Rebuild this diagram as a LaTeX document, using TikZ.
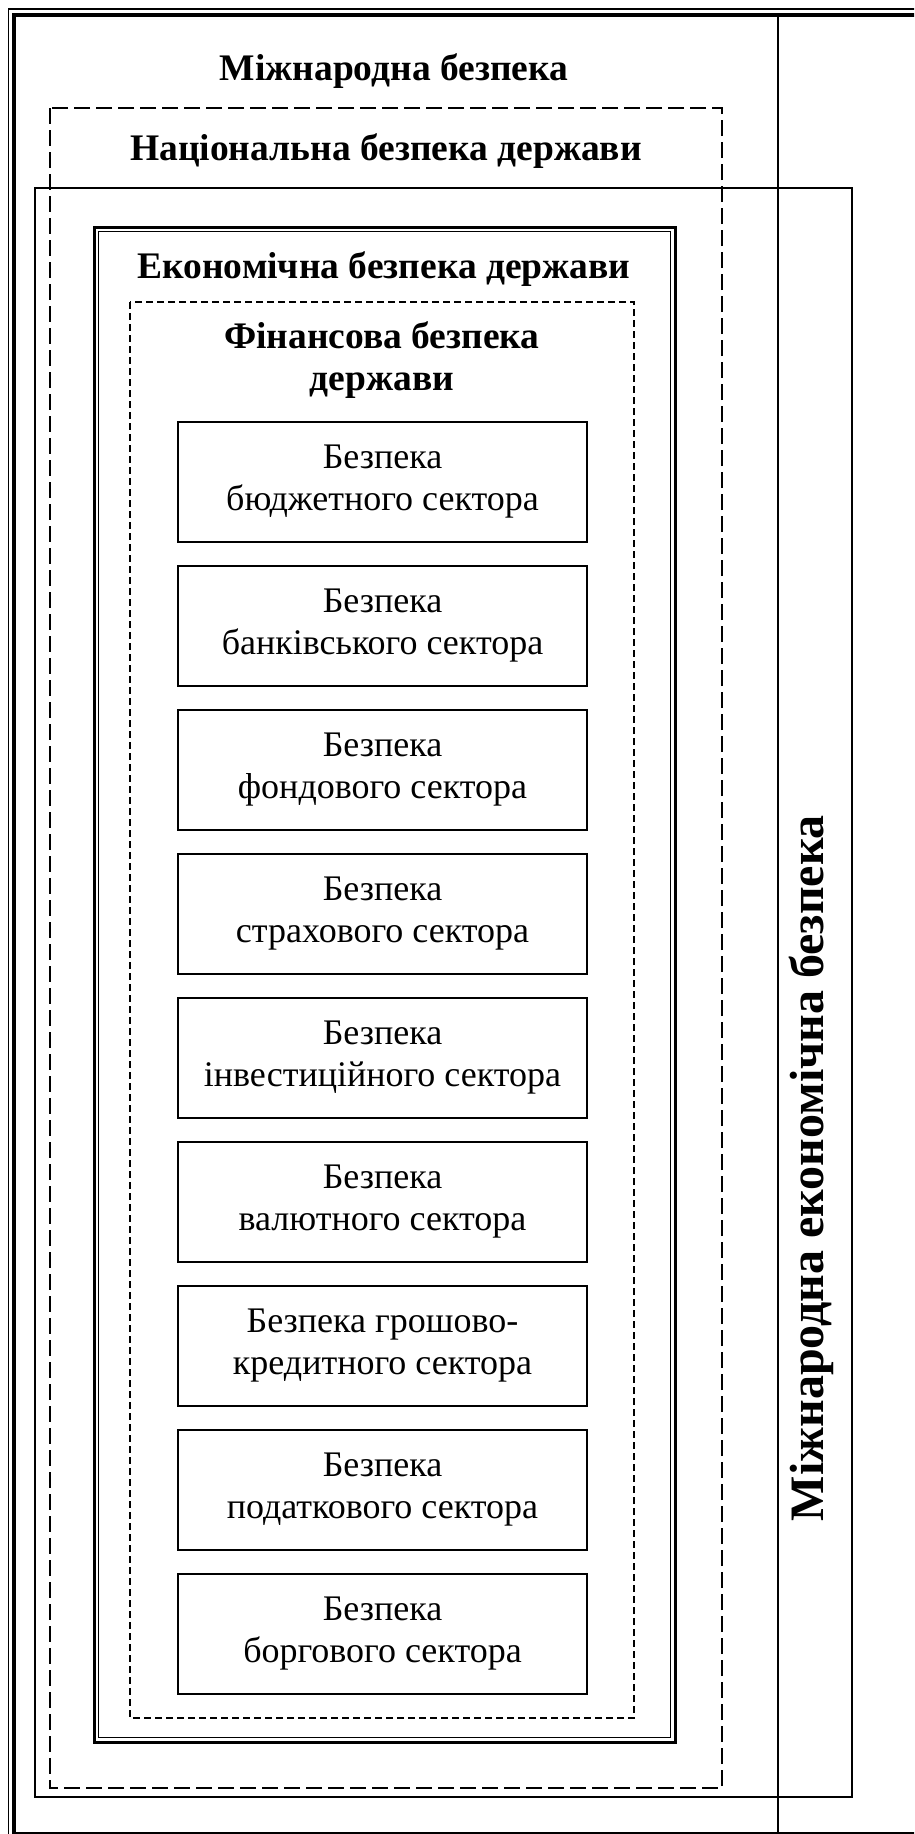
\documentclass[tikz,border=0pt]{standalone}
\usepackage{fontspec}
\setmainfont{Liberation Serif}
\begin{document}
\begin{tikzpicture}[x=1pt,y=-1pt,
  sector/.style={draw, line width=1.6pt, minimum width=409pt, minimum height=120pt, align=center, inner sep=0pt, font=\fontsize{36}{42}\selectfont},
  head/.style={font=\bfseries\fontsize{37.5}{42}\selectfont, align=center, inner sep=0pt},
  ndash/.style={line width=1.8pt, dash pattern=on 16pt off 6pt},
  fdash/.style={line width=1.5pt, dash pattern=on 7pt off 4pt},
  thinline/.style={line width=1.5pt},
  thickline/.style={line width=4pt}
]
\path[use as bounding box] (0,0) rectangle (914,1834);
\clip (0,0) rectangle (914,1834);
% outer frame (international security)
\draw[thinline] (8.5,1900) -- (8.5,9) -- (1000,9);
\draw[thickline] (1000,14.5) -- (13.5,14.5) -- (13.5,1833.5) -- (1000,1833.5);
\draw[thinline] (778,14) -- (778,1834);
% international economic security
\draw[line width=1.8pt] (35,188) rectangle (852,1797);
% national security
\draw[ndash] (50,108) rectangle (722,1788);
% economic security (double frame)
\draw[line width=3pt] (94,227) rectangle (675,1742);
\draw[line width=1.2pt] (98.5,231.5) rectangle (670.5,1737.5);
% financial security
\draw[fdash] (130,302) rectangle (634,1718);
% headings
\node[head, anchor=base] (intl) at (394,80) {Міжнародна безпека};
\node[head, anchor=base] (natl) at (386,160) {Національна безпека держави};
\node[head, anchor=base] (econ) at (384,278) {Економічна безпека держави};
\node[head] (fin) at (382,360) {Фінансова безпека\\держави};
\node[head, font=\bfseries\fontsize{48}{54}\selectfont, rotate=90] (iecon) at (811,1168) {Міжнародна економічна безпека};
% sectors
\foreach \i/\t in {0/{Безпека\\бюджетного сектора},
                   1/{Безпека\\банківського сектора},
                   2/{Безпека\\фондового сектора},
                   3/{Безпека\\страхового сектора},
                   4/{Безпека\\інвестиційного сектора},
                   5/{Безпека\\валютного сектора},
                   6/{Безпека грошово-\\кредитного сектора},
                   7/{Безпека\\податкового сектора},
                   8/{Безпека\\боргового сектора}}{
  \node[sector] (s\i) at (382.5,{482+144*\i}) {\t};
}
\end{tikzpicture}
\end{document}
